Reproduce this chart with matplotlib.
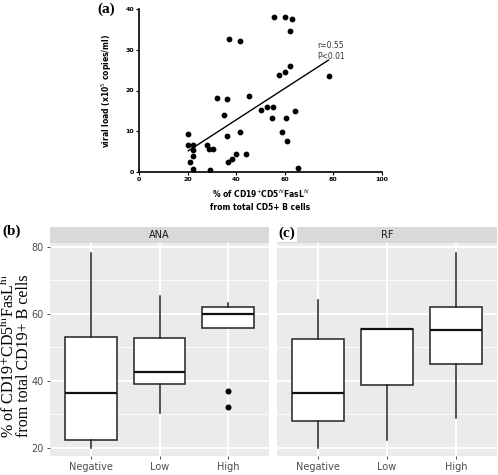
#!/usr/bin/env python3
import matplotlib
matplotlib.use("Agg")
import matplotlib.pyplot as plt
import numpy as np

# (a) scatter: % CD19+CD5hiFasLhi vs viral load
pct_cells = [20.0, 20.0, 22.3, 22.3, 22.3, 21.0, 22.3, 27.9, 28.8, 30.5, 29.1,
             32.0, 34.8, 36.2, 36.1, 36.7, 37.0, 38.2, 39.8, 41.5, 41.4, 43.9,
             45.1, 50.0, 52.5, 55.3, 54.9, 55.5, 57.8, 60.0, 59.9, 58.7, 60.6,
             60.7, 62.2, 62.2, 63.0, 64.2, 65.3, 78.0]
viral_load = [9.3, 6.7, 6.7, 5.5, 4.0, 2.4, 0.7, 6.7, 5.6, 5.6, 0.5,
              18.1, 14.1, 18.0, 8.8, 2.4, 32.6, 3.1, 4.4, 32.1, 9.7, 4.3,
              18.6, 15.2, 16.0, 16.0, 13.3, 38.0, 23.9, 24.5, 38.0, 9.8, 13.3,
              7.7, 26.1, 34.7, 37.5, 15.0, 1.1, 23.5]
fit_slope = 0.386
fit_intercept = -2.64
fit_range = [20.3, 78.0]

# (b)/(c) box plots
groups = ["Negative", "Low", "High"]
# whislo, q1, med, q3, whishi
ana_stats = [[20.0, 22.3, 36.4, 53.2, 78.3],
             [30.4, 39.1, 42.7, 52.8, 65.3],
             [55.7, 55.7, 59.9, 62.1, 63.2]]
ana_fliers = [[], [], [37.0, 32.1]]
rf_stats = [[20.0, 27.9, 36.4, 52.6, 64.1],
            [22.2, 38.8, 55.5, 55.6, 55.6],
            [28.9, 45.1, 55.2, 62.1, 78.3]]
rf_fliers = [[], [], []]

W, H = 498, 475
fig = plt.figure(figsize=(W / 100, H / 100), dpi=100)


def fax(l, t, r, b):
    return fig.add_axes([l / W, (H - b) / H, (r - l) / W, (b - t) / H])


# ── (a) ───────────────────────────────────────────
ax = fax(139, 9, 382, 172)
ax.scatter(pct_cells, viral_load, s=10, color="black", zorder=3)
xs = np.array(fit_range)
ax.plot(xs, fit_slope * xs + fit_intercept, color="black", lw=1)
ax.set_xlim(0, 100)
ax.set_ylim(0, 40)
ax.set_xticks([0, 20, 40, 60, 80, 100])
ax.set_yticks([0, 10, 20, 30, 40])
for s in ["top", "right"]:
    ax.spines[s].set_visible(False)
for s in ["left", "bottom"]:
    ax.spines[s].set_linewidth(1.2)
ax.tick_params(labelsize=4.5, length=2, width=0.8, pad=1.5)
for lbl in ax.get_xticklabels() + ax.get_yticklabels():
    lbl.set_fontweight("bold")
ax.set_xlabel("% of CD19$^{+}$CD5$^{hi}$FasL$^{hi}$\nfrom total CD5+ B cells",
              fontsize=5.5, fontweight="bold", labelpad=4, linespacing=1.4)
ax.set_ylabel("viral load (x10$^{5}$ copies/ml)", fontsize=5.5,
              fontweight="bold", labelpad=8)
ax.text(73.5, 29.8, "r=0.55\nP<0.01", fontsize=5.5, ha="left", va="center",
        color="#333333", linespacing=1.3)
fig.text(97 / W, 1 - 9 / H, "(a)", fontsize=11, fontweight="bold",
         family="Liberation Serif", va="center", ha="left")

# ── (b), (c) ─────────────────────────────────────
def facet(left, right, title, stats, fliers):
    ax = fax(left, 243, right, 456)
    ax.set_facecolor("#EBEBEB")
    bx = []
    for st, fl, g in zip(stats, fliers, groups):
        bx.append(dict(whislo=st[0], q1=st[1], med=st[2], q3=st[3],
                       whishi=st[4], fliers=fl, label=g))
    ax.bxp(bx, positions=[1, 2, 3], widths=0.75, patch_artist=True,
           showcaps=False,
           boxprops=dict(facecolor="white", edgecolor="#222222", lw=1.1),
           medianprops=dict(color="#111111", lw=1.6),
           whiskerprops=dict(color="#222222", lw=1.1),
           flierprops=dict(marker="o", markerfacecolor="black",
                           markeredgecolor="black", markersize=3.3),
           zorder=3)
    ax.set_xlim(0.4, 3.6)
    ax.set_ylim(17.5, 81.2)
    ax.set_yticks([20, 40, 60, 80])
    ax.set_yticks([30, 50, 70], minor=True)
    ax.grid(True, which="major", color="white", lw=1.3)
    ax.grid(True, which="minor", axis="y", color="white", lw=0.6)
    ax.set_axisbelow(True)
    for s in ax.spines.values():
        s.set_visible(False)
    ax.tick_params(which="major", labelsize=7, colors="#4D4D4D", length=2.5,
                   width=0.7, pad=2)
    ax.tick_params(which="minor", length=0)
    st_ax = fax(left, 227, right, 243)
    st_ax.set_facecolor("#D9D9D9")
    st_ax.set_xticks([])
    st_ax.set_yticks([])
    for s in st_ax.spines.values():
        s.set_visible(False)
    st_ax.text(0.5, 0.5, title, fontsize=7, color="#1A1A1A", ha="center",
               va="center", transform=st_ax.transAxes)
    return ax


axb = facet(50, 269, "ANA", ana_stats, ana_fliers)
axc = facet(277, 497, "RF", rf_stats, rf_fliers)
axc.tick_params(axis="y", labelleft=False, length=0)

axb.set_ylabel("% of CD19$^{+}$CD5$^{\\mathrm{hi}}$FasL$^{\\mathrm{hi}}$\n"
               "from total CD19+ B cells", fontsize=11.5,
               family="Liberation Serif", math_fontfamily="stix",
               linespacing=0.85)
axb.yaxis.set_label_coords(-0.08, 0.47)

fig.text(2 / W, 1 - 231 / H, "(b)", fontsize=11, fontweight="bold",
         family="Liberation Serif", va="center", ha="left")
fig.text(278 / W, 1 - 233 / H, "(c)", fontsize=11, fontweight="bold",
         family="Liberation Serif", va="center", ha="left",
         bbox=dict(facecolor="white", edgecolor="none", pad=1.5))

fig.savefig("out.png", dpi=100)
